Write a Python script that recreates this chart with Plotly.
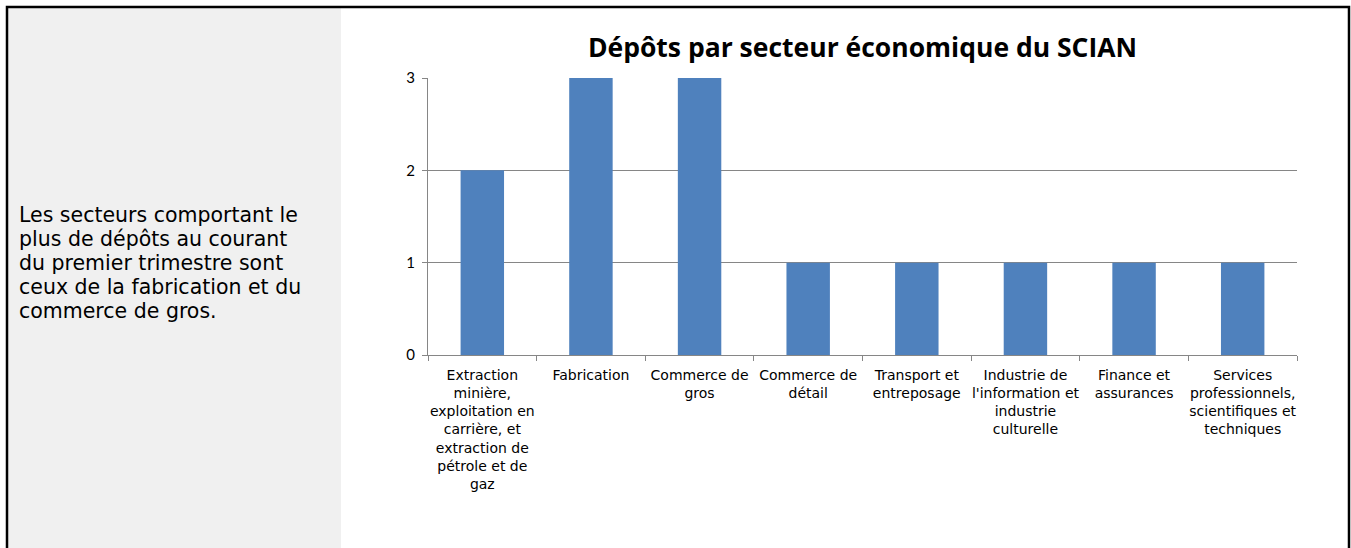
import plotly.graph_objects as go

categories = [
    "Extraction<br>minière,<br>exploitation en<br>carrière, et<br>extraction de<br>pétrole et de<br>gaz",
    "Fabrication",
    "Commerce de<br>gros",
    "Commerce de<br>détail",
    "Transport et<br>entreposage",
    "Industrie de<br>l'information et<br>industrie<br>culturelle",
    "Finance et<br>assurances",
    "Services<br>professionnels,<br>scientifiques et<br>techniques",
]
depots = [2, 3, 3, 1, 1, 1, 1, 1]
y_ticks = [0, 1, 2, 3]

title_text = "Dépôts par secteur économique du SCIAN"
side_lines = [
    "Les secteurs comportant le",
    "plus de dépôts au courant",
    "du premier trimestre sont",
    "ceux de la fabrication et du",
    "commerce de gros.",
]

W, H = 1351, 548
L, R, T, B = 428, 1297, 78, 355


def px(x):
    return (x - L) / (R - L)


def py(y):
    return (B - y) / (B - T)


fig = go.Figure()
fig.add_trace(go.Bar(x=categories, y=depots, marker=dict(color="#4F81BD", line=dict(width=0)),
                     hoverinfo="skip"))

fig.add_shape(type="rect", xref="paper", yref="paper",
              x0=px(8), x1=px(341), y0=py(8), y1=py(570),
              fillcolor="#F0F0F0", line=dict(width=0), layer="below")
fig.add_shape(type="rect", xref="paper", yref="paper",
              x0=px(7), x1=px(1349), y0=py(7), y1=py(570),
              fillcolor="rgba(0,0,0,0)", line=dict(color="black", width=2.5), layer="above")

for i, line in enumerate(side_lines):
    fig.add_annotation(text=line, xref="paper", yref="paper", x=px(17), y=py(215 + i * 24),
                       xanchor="left", yanchor="middle", align="left", showarrow=False,
                       font=dict(family="DejaVu Sans", size=20.5, color="black"))

fig.update_layout(
    width=W, height=H,
    margin=dict(l=L, r=W - R, t=T, b=H - B),
    paper_bgcolor="white", plot_bgcolor="white",
    bargap=0.6, showlegend=False,
    title=dict(text="<b>" + title_text + "</b>", x=0.5, xref="paper", xanchor="center",
               y=1 - 48 / H, yanchor="middle",
               font=dict(family="Open Sans, Lato", size=26.5, color="black")),
    xaxis=dict(showline=True, linecolor="#868686", linewidth=1, ticks="outside",
               tickson="boundaries", ticklen=5, tickcolor="#868686", ticklabelstandoff=7,
               tickfont=dict(family="DejaVu Sans", size=14, color="black"),
               tickangle=0, showgrid=False),
    yaxis=dict(range=[0, 3], tickvals=y_ticks, showline=True, linecolor="#868686", linewidth=1,
               ticks="outside", ticklen=5, tickcolor="#868686", showgrid=True,
               gridcolor="#868686", gridwidth=1, zeroline=False, ticklabelstandoff=4,
               tickfont=dict(family="Lato, Liberation Sans", size=15, color="black")),
)

fig.write_html("out.html", config={"displayModeBar": False},
               post_script="document.body.style.margin='0';document.body.style.overflow='hidden';")
